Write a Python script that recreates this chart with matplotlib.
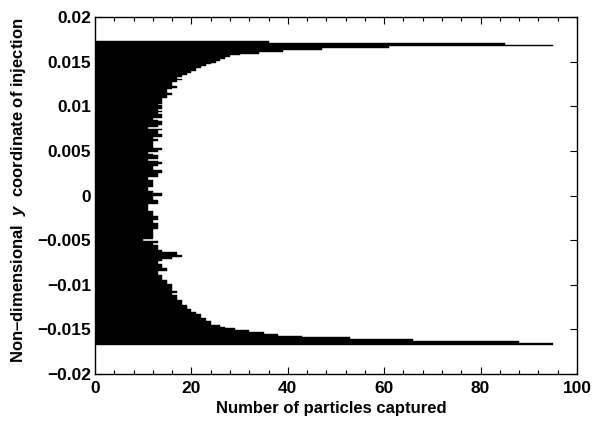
import numpy as np
import matplotlib
matplotlib.use("Agg")
import matplotlib.pyplot as plt
from matplotlib.ticker import MultipleLocator

plt.rcParams['font.family'] = ['Liberation Sans', 'DejaVu Sans']
plt.rcParams['font.weight'] = 'bold'
plt.rcParams['axes.labelweight'] = 'bold'
plt.rcParams['mathtext.fontset'] = 'custom'
plt.rcParams['mathtext.it'] = 'Liberation Sans:italic:bold'
plt.rcParams['mathtext.rm'] = 'Liberation Sans:bold'

# Histogram of injection y-coordinate (bin centres, top to bottom) and counts
bin_top = 0.0172
bin_width = 0.0002
counts = [
    36, 85, 95, 61, 47, 39, 34, 30, 28, 27,
    26, 25, 24, 23, 22, 21, 21, 20, 19, 18,
    17, 18, 17, 16, 16, 17, 16, 15, 15, 16,
    15, 15, 14, 14, 14, 13, 14, 14, 13, 14,
    13, 14, 14, 12, 13, 14, 14, 13, 11, 14,
    13, 13, 14, 14, 12, 13, 12, 12, 12, 12,
    14, 13, 11, 12, 13, 13, 11, 13, 14, 13,
    12, 12, 14, 14, 13, 13, 11, 11, 12, 12,
    12, 12, 11, 11, 12, 14, 14, 12, 12, 13,
    13, 11, 11, 11, 11, 12, 12, 12, 13, 13,
    12, 12, 13, 13, 13, 12, 12, 12, 12, 12,
    12, 10, 13, 12, 13, 13, 13, 14, 17, 17,
    18, 16, 14, 13, 13, 14, 14, 15, 15, 13,
    13, 14, 14, 14, 15, 15, 16, 16, 16, 16,
    17, 16, 17, 17, 17, 18, 18, 18, 19, 19,
    20, 20, 21, 22, 22, 23, 23, 24, 24, 26,
    27, 29, 32, 35, 38, 43, 53, 66, 88, 95,
]
y_centres = bin_top - bin_width * np.arange(len(counts))

x_ticks = [0, 20, 40, 60, 80, 100]
x_labels = ['0', '20', '40', '60', '80', '100']
y_ticks = [-0.02, -0.015, -0.01, -0.005, 0, 0.005, 0.01, 0.015, 0.02]
y_labels = ['\u22120.02', '\u22120.015', '\u22120.01', '\u22120.005', '0',
            '0.005', '0.01', '0.015', '0.02']

fig = plt.figure(figsize=(5.95, 4.23), dpi=100)
ax = fig.add_axes([95/595, 1-374/423, (577-95)/595, (374-17)/423])

ax.barh(y_centres, counts, height=bin_width, color='black',
        edgecolor='black', linewidth=0.3)

ax.set_xlim(0, 100)
ax.set_ylim(-0.02, 0.02)
ax.set_xticks(x_ticks, labels=x_labels, fontsize=12.5, fontweight='bold')
ax.set_yticks(y_ticks, labels=y_labels, fontsize=12.5, fontweight='bold')
ax.xaxis.set_minor_locator(MultipleLocator(4))

ax.tick_params(which='both', direction='in', top=True, right=True, width=0.8)
ax.tick_params(which='major', length=5)
ax.tick_params(which='minor', length=3)
ax.tick_params(axis='x', which='major', pad=5)
ax.tick_params(axis='y', which='major', pad=3)
for sp in ax.spines.values():
    sp.set_linewidth(1.0)

ax.set_xlabel('Number of particles captured', fontsize=12, fontweight='bold')
ax.set_ylabel('Non\u2013dimensional  $\\mathit{y}$  coordinate of injection',
              fontsize=12, fontweight='bold')
ax.xaxis.set_label_coords(0.49, -0.075)
ax.yaxis.set_label_coords(-0.139, 0.515)

fig.savefig('out.png', dpi=100)
